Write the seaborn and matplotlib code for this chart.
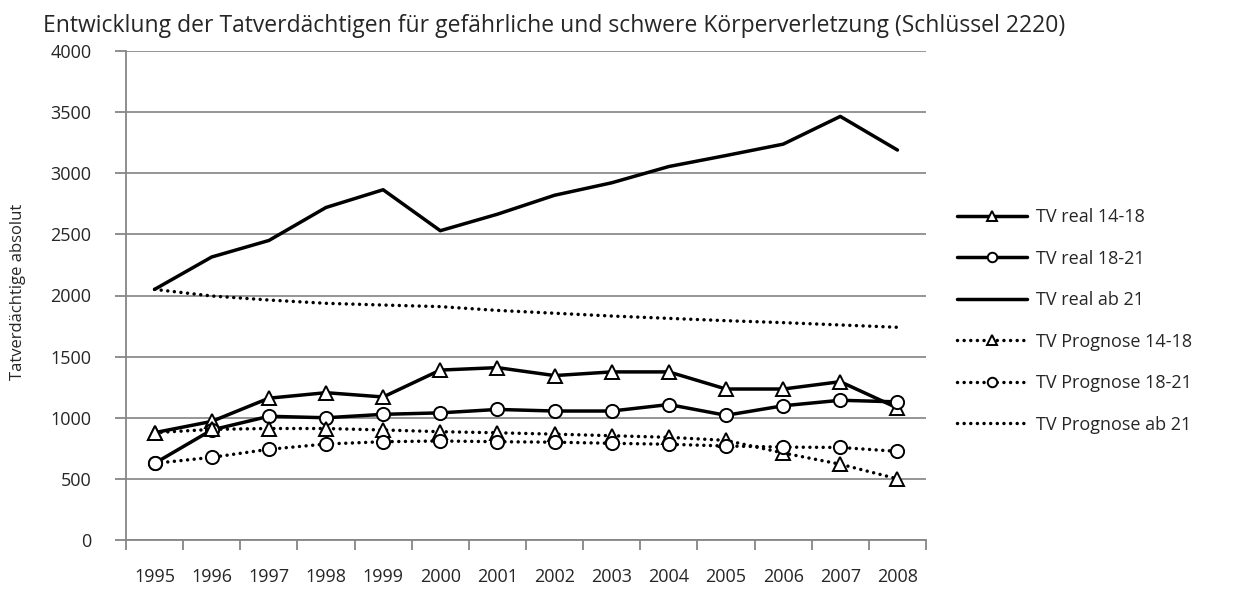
import pandas as pd
import matplotlib.pyplot as plt
import seaborn as sns

# --- Daten ---
jahre = [1995, 1996, 1997, 1998, 1999, 2000, 2001, 2002, 2003, 2004, 2005, 2006, 2007, 2008]

real_14_18 = [878, 970, 1160, 1205, 1170, 1390, 1410, 1345, 1375, 1375, 1235, 1235, 1295, 1080]
real_18_21 = [627, 900, 1012, 1000, 1028, 1040, 1068, 1055, 1055, 1108, 1020, 1098, 1143, 1130]
real_ab_21 = [2050, 2315, 2450, 2720, 2865, 2530, 2665, 2820, 2922, 3055, 3145, 3238, 3465, 3190]
prog_14_18 = [878, 905, 912, 912, 900, 886, 877, 866, 853, 840, 815, 712, 620, 500]
prog_18_21 = [627, 676, 742, 785, 804, 810, 804, 800, 791, 783, 769, 760, 757, 725]
prog_ab_21 = [2050, 1996, 1963, 1936, 1922, 1909, 1878, 1855, 1832, 1813, 1794, 1778, 1759, 1740]

reihen = [
    ("TV real 14-18", real_14_18, "-", "^"),
    ("TV real 18-21", real_18_21, "-", "o"),
    ("TV real ab 21", real_ab_21, "-", None),
    ("TV Prognose 14-18", prog_14_18, "dot", "^"),
    ("TV Prognose 18-21", prog_18_21, "dot", "o"),
    ("TV Prognose ab 21", prog_ab_21, "dot", None),
]

# runde Punkte wie in Excel
PUNKTE = (0, (0.01, 1.9))


def zeichne():
    sns.set_style("white")
    plt.rcParams["font.family"] = ["Open Sans", "DejaVu Sans"]

    fig = plt.figure(figsize=(12.34, 6.02), dpi=100)
    # Plotbereich: x 126..926 px, y 51..540 px
    ax = fig.add_axes([126 / 1234, 62 / 602, 800 / 1234, 489 / 602])

    pos = list(range(len(jahre)))
    for name, werte, ls, mk in reihen:
        df = pd.DataFrame({"x": pos, "y": werte})
        if ls == "dot":
            stil = dict(linestyle=PUNKTE, linewidth=2.5, dash_capstyle="round")
        else:
            stil = dict(linestyle="-", linewidth=2.5)
        sns.lineplot(
            data=df, x="x", y="y", ax=ax, color="black", **stil,
            marker=mk, markersize=9.5 if mk == "o" else 10,
            markerfacecolor="white", markeredgecolor="black",
            markeredgewidth=1.4, label=name,
        )

    # Achsen (Excel-Stil: Kategorien zwischen den Teilstrichen)
    ax.set_xlim(-0.5, len(jahre) - 0.5)
    ax.set_ylim(0, 4000)
    ax.set_yticks(range(0, 4001, 500))
    ax.set_xticks(pos)
    ax.set_xticklabels([str(j) for j in jahre])
    ax.set_xticks([p - 0.5 for p in pos] + [len(jahre) - 0.5], minor=True)
    ax.tick_params(axis="x", which="both", bottom=True)
    ax.tick_params(axis="y", which="both", left=True)
    ax.tick_params(axis="x", which="major", length=0, pad=20, labelsize=13)
    ax.tick_params(axis="x", which="minor", length=7, width=1.3, color="#868686", direction="out")
    ax.tick_params(axis="y", length=8, width=1.3, color="#868686", direction="out",
                   labelsize=13, pad=17)
    ax.yaxis.grid(True, color="#8c8c8c", linewidth=1.3)
    ax.set_axisbelow(True)
    for s in ["top", "right"]:
        ax.spines[s].set_visible(False)
    for s in ["left", "bottom"]:
        ax.spines[s].set_color("#868686")
        ax.spines[s].set_linewidth(1.3)

    ax.set_xlabel("")
    ax.set_ylabel("")
    fig.text(18 / 1234, 1 - 292 / 602, "Tatverdächtige absolut", rotation=90,
             fontsize=12, ha="center", va="center")
    fig.text(43 / 1234, 1 - 32 / 602,
             "Entwicklung der Tatverdächtigen für gefährliche und schwere Körperverletzung (Schlüssel 2220)",
             fontsize=16.5, ha="left", va="baseline")

    ax.legend(loc="center left", bbox_to_anchor=(957 / 1234, 1 - 321 / 602),
              bbox_transform=fig.transFigure, frameon=False, borderpad=0,
              borderaxespad=0, fontsize=13, handlelength=3.9, labelspacing=1.3,
              handletextpad=0.45, markerscale=0.72)

    plt.savefig("out.png", dpi=100)


if __name__ == "__main__":
    zeichne()
